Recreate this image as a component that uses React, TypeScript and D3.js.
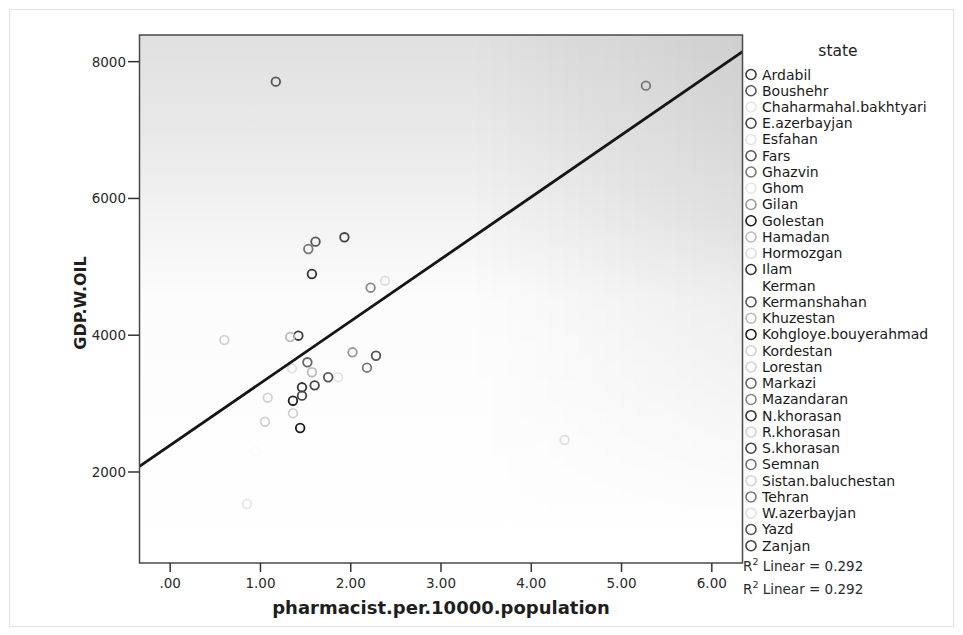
import React from 'react';
import * as d3 from 'd3';

// states and their values
const states = [
  'Ardabil', 'Boushehr', 'Chaharmahal.bakhtyari', 'E.azerbayjan', 'Esfahan',
  'Fars', 'Ghazvin', 'Ghom', 'Gilan', 'Golestan', 'Hamadan', 'Hormozgan',
  'Ilam', 'Kerman', 'Kermanshahan', 'Khuzestan', 'Kohgloye.bouyerahmad',
  'Kordestan', 'Lorestan', 'Markazi', 'Mazandaran', 'N.khorasan', 'R.khorasan',
  'S.khorasan', 'Semnan', 'Sistan.baluchestan', 'Tehran', 'W.azerbayjan',
  'Yazd', 'Zanjan'
];
const pharmacists = [
  1.42, 1.17, 1.35, 1.93, 1.86, 1.61, 1.53, 0.85, 2.02, 1.44, 1.57, 4.37,
  1.57, 0.95, 1.75, 1.33, 1.36, 0.60, 1.36, 1.52, 2.22, 1.46, 1.05, 1.60,
  2.18, 1.08, 5.27, 2.38, 2.28, 1.46
];
const gdpWithoutOil = [
  3993, 7708, 3516, 5432, 3385, 5368, 5261, 1532, 3750, 2643, 3458, 2468,
  4895, 2300, 3385, 3974, 3042, 3930, 2859, 3604, 4695, 3238, 2735, 3267,
  3525, 3086, 7649, 4797, 3700, 3116
];
const stateShades = [
  '#3a3a3a', '#555', '#e4e4e4', '#444', '#e4e4e4', '#555', '#777', '#e6e6e6',
  '#999', '#1a1a1a', '#bbb', '#dedede', '#333', '#fbfbfb', '#555', '#bbb',
  '#222', '#d2d2d2', '#d2d2d2', '#666', '#888', '#333', '#d0d0d0', '#444',
  '#777', '#d2d2d2', '#777', '#dedede', '#555', '#444'
];
const xTicks = [0, 1, 2, 3, 4, 5, 6];
const yTicks = [2000, 4000, 6000, 8000];

// linear fit shown on the chart
const fitIntercept = 2390;
const fitSlope = 908;
const rSquared = 0.292;

const W = 963;
const H = 635;
const plot = { left: 139.5, right: 742.5, top: 35, bottom: 563 };
const FONT = '"DejaVu Sans", Verdana, sans-serif';

const App: React.FC = () => {
  const x = d3.scaleLinear().domain([-0.34, 6.34]).range([plot.left, plot.right]);
  const y = d3.scaleLinear().domain([669, 8390]).range([plot.bottom, plot.top]);

  const [x0, x1] = x.domain();
  const fitLine = d3.line<number>()
    .x(d => x(d))
    .y(d => y(fitIntercept + fitSlope * d))([x0, x1]);

  const legendY = d3.scalePoint<string>()
    .domain(states)
    .range([74.5, 545.7]);

  const pts = states.map((s, i) => ({
    state: s,
    px: pharmacists[i],
    gdp: gdpWithoutOil[i],
    shade: stateShades[i]
  }));

  const pw = plot.right - plot.left;
  const ph = plot.bottom - plot.top;

  return (
    <svg width={W} height={H} style={{ position: 'absolute', left: 0, top: 0, background: '#fff' }}>
      <defs>
        <linearGradient id="bgV" x1="0" y1="0" x2="0" y2="1">
          <stop offset="0%" stopColor="#e0e0e0" />
          <stop offset="20%" stopColor="#eaeaea" />
          <stop offset="50%" stopColor="#fcfcfc" />
          <stop offset="100%" stopColor="#ffffff" />
        </linearGradient>
        <linearGradient id="bgH" x1="0" y1="0" x2="1" y2="0">
          <stop offset="0%" stopColor="#000" stopOpacity="0" />
          <stop offset="55%" stopColor="#000" stopOpacity="0" />
          <stop offset="100%" stopColor="#000" stopOpacity="0.075" />
        </linearGradient>
        <linearGradient id="fadeDown" x1="0" y1="0" x2="0" y2="1">
          <stop offset="0%" stopColor="#fff" />
          <stop offset="35%" stopColor="#fff" />
          <stop offset="95%" stopColor="#000" />
        </linearGradient>
        <mask id="fadeMask" maskUnits="userSpaceOnUse" x={plot.left} y={plot.top} width={pw} height={ph}>
          <rect x={plot.left} y={plot.top} width={pw} height={ph} fill="url(#fadeDown)" />
        </mask>
        <clipPath id="plotClip">
          <rect x={plot.left} y={plot.top} width={pw} height={ph} />
        </clipPath>
      </defs>

      {/* outer frame */}
      <rect x={9.5} y={9.5} width={944} height={617} fill="none" stroke="#e2e2e2" />

      {/* plot background */}
      <rect x={plot.left} y={plot.top} width={pw} height={ph} fill="url(#bgV)" />
      <rect x={plot.left} y={plot.top} width={pw} height={ph} fill="url(#bgH)" mask="url(#fadeMask)" />

      {/* points */}
      <g>
        {pts.map(d => (
          <circle key={d.state} cx={x(d.px)} cy={y(d.gdp)} r={4.3}
            fill="none" stroke={d.shade} strokeWidth={1.8} />
        ))}
      </g>

      {/* fit line */}
      <path d={fitLine || ''} stroke="#151515" strokeWidth={2.8} fill="none" clipPath="url(#plotClip)" />

      {/* frame */}
      <rect x={plot.left} y={plot.top} width={pw} height={ph}
        fill="none" stroke="#4a4a4a" strokeWidth={1.5} />

      {/* y axis */}
      <g fontFamily={FONT} fontSize={13.5} fill="#2a2a2a">
        {yTicks.map(t => (
          <g key={t}>
            <line x1={128} x2={plot.left} y1={y(t)} y2={y(t)} stroke="#333" strokeWidth={1.5} />
            <text x={126} y={y(t)} textAnchor="end" dominantBaseline="central">{t}</text>
          </g>
        ))}
      </g>

      {/* x axis */}
      <g fontFamily={FONT} fontSize={13.5} fill="#2a2a2a">
        {xTicks.map(t => (
          <g key={t}>
            <line x1={x(t)} x2={x(t)} y1={plot.bottom} y2={plot.bottom + 9} stroke="#333" strokeWidth={1.5} />
            <text x={x(t)} y={583} textAnchor="middle" dominantBaseline="central">
              {d3.format('.2f')(t).replace(/^0/, '')}
            </text>
          </g>
        ))}
      </g>

      {/* axis titles */}
      <text x={441} y={607} textAnchor="middle" dominantBaseline="central"
        fontFamily={FONT} fontWeight="bold" fontSize={18} fill="#1e1e1e">
        pharmacist.per.10000.population
      </text>
      <text transform="translate(80,303) rotate(-90)" textAnchor="middle" dominantBaseline="central"
        fontFamily={FONT} fontWeight="bold" fontSize={16} fill="#1e1e1e">
        GDP.W.OIL
      </text>

      {/* legend */}
      <text x={838} y={51} textAnchor="middle" dominantBaseline="central"
        fontFamily={FONT} fontSize={15.5} fill="#1e1e1e">state</text>
      <g fontFamily={FONT} fontSize={14} fill="#1a1a1a">
        {pts.map(d => (
          <g key={d.state}>
            <circle cx={751} cy={legendY(d.state)} r={5} fill="none" stroke={d.shade} strokeWidth={1.6} />
            <text x={762} y={legendY(d.state)} dominantBaseline="central">{d.state}</text>
          </g>
        ))}
      </g>

      {/* fit annotations */}
      <g fontFamily={FONT} fontSize={13.5} fill="#2a2a2a">
        {[566, 589].map(ly => (
          <text key={ly} x={743} y={ly} dominantBaseline="central">
            R<tspan dy={-5} fontSize={9.5}>2</tspan>
            <tspan dy={5}> Linear = {rSquared.toFixed(3)}</tspan>
          </text>
        ))}
      </g>
    </svg>
  );
};

export default App;
